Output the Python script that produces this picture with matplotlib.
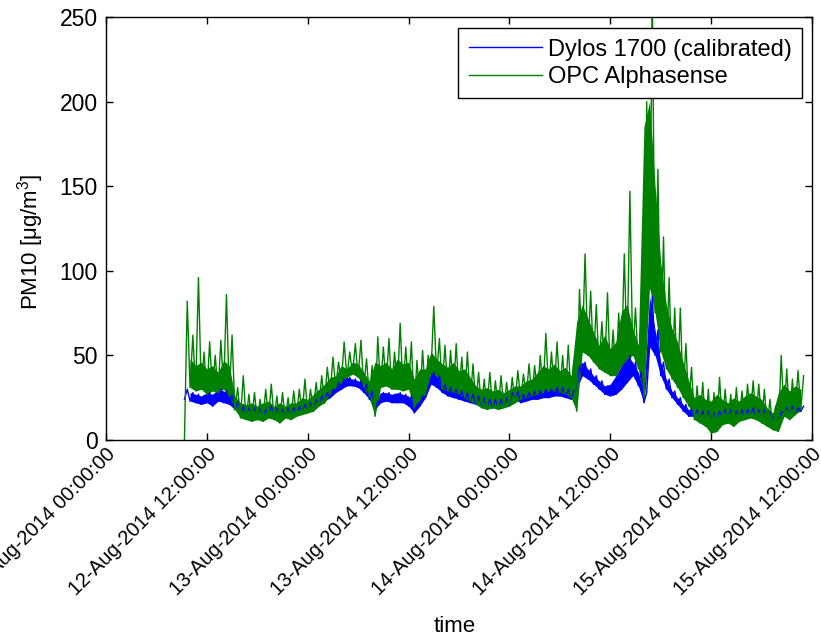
import numpy as np
import pandas as pd
import matplotlib
matplotlib.use("Agg")
import matplotlib.pyplot as plt

plt.rcParams['font.family'] = ['Liberation Sans', 'DejaVu Sans']
plt.rcParams['mathtext.fontset'] = 'custom'
plt.rcParams['mathtext.rm'] = 'Liberation Sans'
plt.rcParams['mathtext.it'] = 'Liberation Sans:italic'

# ---- data ----
# every 40 minutes from start_time: a low reading, then 20 minutes later a high reading
start_time = '2014-08-12 09:20'
series_names = ['Dylos 1700 (calibrated)', 'OPC Alphasense']

green_lo = [0, 31, 29, 30, 27, 29, 28, 30, 26, 18,
            13, 12, 11, 12, 11, 13, 12, 10, 13, 12,
            14, 15, 16, 17, 20, 22, 27, 31, 34, 37,
            39, 37, 31, 25, 14, 31, 32, 30, 30, 29,
            30, 19, 24, 27, 40, 38, 30, 29, 28, 27,
            25, 23, 21, 19, 18, 19, 18, 19, 20, 22,
            24, 25, 26, 27, 28, 29, 29, 28, 27, 25,
            17, 52, 50, 46, 42, 40, 38, 38, 44, 48,
            50, 42, 25, 90, 75, 52, 42, 36, 31, 25,
            20, 12, 10, 8, 4, 5, 9, 10, 8, 11,
            12, 13, 12, 10, 8, 6, 5, 14, 12, 15, 18]
green_hi = [82, 62, 96, 52, 58, 50, 59, 86, 62, 31,
            38, 27, 28, 24, 30, 33, 26, 28, 25, 29,
            30, 36, 30, 34, 38, 43, 49, 46, 58, 52,
            57, 59, 48, 44, 61, 55, 60, 52, 69, 55,
            58, 47, 53, 50, 79, 60, 56, 53, 57, 49,
            52, 45, 40, 36, 40, 35, 38, 34, 37, 41,
            39, 45, 44, 50, 63, 52, 58, 50, 56, 47,
            89, 110, 88, 80, 70, 87, 65, 75, 110, 147,
            78, 70, 200, 262, 160, 120, 96, 78, 78, 57,
            43, 32, 34, 30, 28, 37, 30, 27, 31, 29,
            33, 35, 33, 30, 24, 20, 50, 42, 36, 41, 38]
# upper edge of the dense (solid) part of the green band, without the thin spikes
green_top = [0, 48, 44, 46, 42, 44, 40, 47, 44, 26,
             22, 21, 22, 20, 22, 23, 20, 22, 20, 22,
             22, 25, 24, 27, 30, 33, 37, 38, 44, 42,
             46, 45, 40, 35, 46, 44, 46, 42, 48, 45,
             46, 36, 42, 42, 52, 48, 45, 43, 46, 41,
             42, 37, 32, 30, 31, 29, 30, 28, 30, 32,
             32, 35, 36, 40, 44, 42, 45, 41, 43, 38,
             70, 80, 72, 64, 56, 62, 54, 58, 76, 80,
             66, 56, 185, 200, 150, 105, 80, 66, 58, 46,
             35, 25, 27, 24, 23, 27, 24, 22, 25, 23,
             26, 28, 26, 24, 19, 16, 28, 33, 29, 32, 30]
blue_lo = [24, 23, 22, 21, 22, 20, 23, 22, 21, 18,
           16, 15, 15, 15, 14, 16, 15, 14, 15, 15,
           16, 17, 18, 19, 21, 23, 25, 28, 30, 32,
           32, 31, 28, 24, 18, 22, 23, 22, 22, 22,
           20, 16, 20, 25, 33, 31, 28, 26, 25, 24,
           23, 22, 21, 20, 19, 19, 19, 20, 21, 24,
           22, 23, 24, 24, 25, 25, 26, 26, 25, 24,
           30, 38, 36, 33, 30, 27, 26, 27, 30, 34,
           38, 32, 22, 55, 50, 38, 30, 25, 21, 17,
           14, 14, 13, 13, 12, 13, 14, 14, 13, 14,
           14, 15, 14, 14, 13, 12, 12, 17, 16, 16, 17]
blue_hi = [30, 28, 27, 26, 28, 27, 30, 29, 27, 23,
           20, 19, 19, 19, 18, 20, 19, 18, 19, 19,
           20, 21, 22, 24, 26, 28, 30, 34, 36, 37,
           36, 35, 33, 29, 23, 28, 28, 27, 28, 27,
           26, 21, 26, 31, 40, 38, 33, 31, 30, 29,
           28, 27, 26, 25, 24, 24, 24, 25, 28, 29,
           27, 28, 29, 29, 30, 30, 31, 31, 30, 29,
           44, 46, 42, 38, 35, 32, 33, 38, 44, 50,
           46, 40, 28, 85, 65, 46, 36, 29, 25, 21,
           18, 18, 17, 17, 16, 17, 18, 18, 17, 18,
           18, 19, 18, 18, 17, 16, 16, 19, 20, 19, 20]

yticks = [0, 50, 100, 150, 200, 250]

GREEN = (0, 0.5, 0)
BLUE = (0, 0, 1)

green = np.column_stack([green_lo, green_hi]).ravel()
blue = np.column_stack([blue_lo, blue_hi]).ravel()
t = pd.date_range(start_time, periods=len(green), freq='20min')
t_lo = t[::2]
band_mask = np.arange(len(t_lo)) > 0

fig = plt.figure(figsize=(8.21, 6.37), dpi=100)
ax = fig.add_axes([106/821, 197/637, 706/821, 423/637])

ax.fill_between(t_lo, blue_lo, blue_hi, where=band_mask, color=BLUE, lw=0)
ax.plot(t, blue, color=BLUE, lw=1.0, label=series_names[0])
ax.fill_between(t_lo, green_lo, green_top, where=band_mask, color=GREEN, lw=0)
ax.plot(t, green, color=GREEN, lw=1.0, label=series_names[1])

ax.set_xlim(pd.Timestamp('2014-08-12 00:00'), pd.Timestamp('2014-08-15 12:00'))
ax.set_ylim(0, 250)
ax.set_yticks(yticks)
xt = pd.date_range('2014-08-12 00:00', '2014-08-15 12:00', freq='12h')
ax.set_xticks(xt)
ax.set_xticklabels([d.strftime('%d-%b-%Y %H:%M:%S') for d in xt], rotation=45,
                   ha='right', va='top', rotation_mode='anchor')
ax.tick_params(direction='in', top=True, right=True, length=5, width=1)
ax.tick_params(axis='y', labelsize=16.5, pad=6)
ax.tick_params(axis='x', labelsize=14.5, pad=3.5)
for s in ax.spines.values():
    s.set_linewidth(1.0)

ax.set_ylabel('PM10 [μg/m$^3$]', fontsize=16)
ax.yaxis.set_label_coords(-0.085, 0.468)
ax.set_xlabel('time', fontsize=16, va='top')
ax.xaxis.set_label_coords(0.494, -0.415)

leg = ax.legend(loc='upper right', bbox_to_anchor=(0.986, 0.974), borderaxespad=0,
                fancybox=False, edgecolor='black', framealpha=1, handlelength=3.1,
                handletextpad=0.25, borderpad=0.45, labelspacing=0.22, fontsize=17)
leg.get_frame().set_linewidth(1.0)
for l in leg.get_lines():
    l.set_linewidth(1.0)

fig.savefig('out.png', dpi=100)
